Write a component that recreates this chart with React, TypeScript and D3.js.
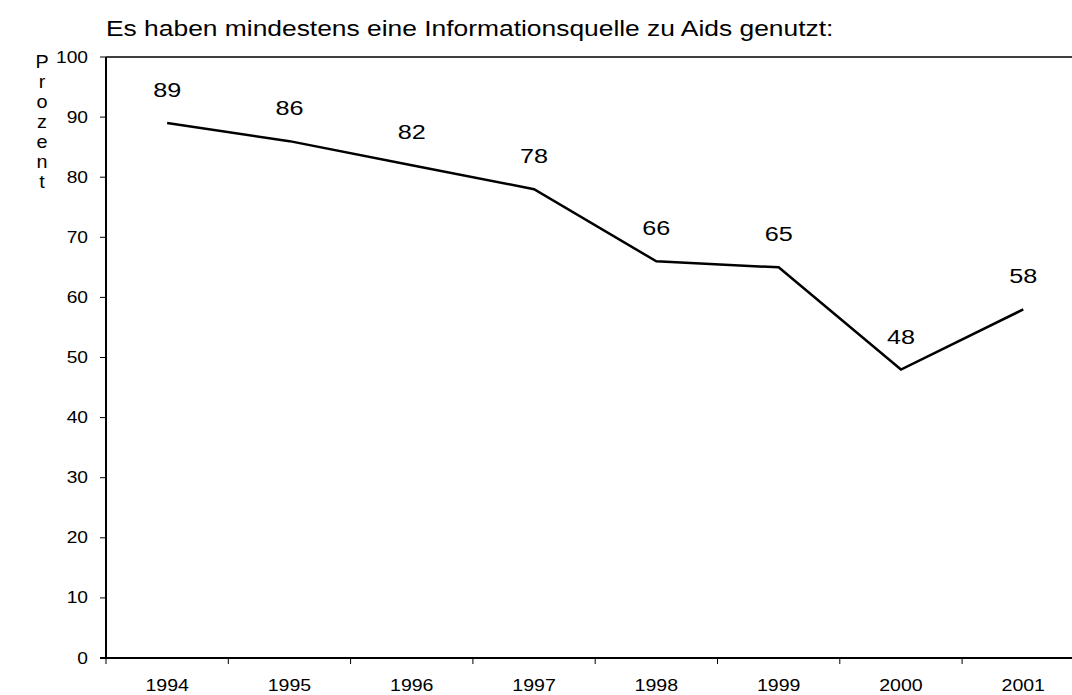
import React from "react";
import * as d3 from "d3";

const years = ["1994", "1995", "1996", "1997", "1998", "1999", "2000", "2001"];
const values = [89, 86, 82, 78, 66, 65, 48, 58];
const yTicks = [0, 10, 20, 30, 40, 50, 60, 70, 80, 90, 100];
const title = "Es haben mindestens eine Informationsquelle zu Aids genutzt:";
const yAxisLabel = "Prozent";

function T({ x, y, size, anchor = "start", sx = 1.2, children }: any) {
  return (
    <g transform={`translate(${x},${y}) scale(${sx},1)`}>
      <text x={0} y={0} fontSize={size} textAnchor={anchor} fill="#000">{children}</text>
    </g>
  );
}

export default function App() {
  const W = 1072, H = 695;
  const left = 106, top = 57, bottom = 658, bandW = 122.3;
  const x = d3.scaleBand<string>().domain(years).range([left, left + bandW * years.length]).padding(0);
  const y = d3.scaleLinear().domain([0, 100]).range([bottom, top]);
  const cx = (i: number) => (x(years[i]) as number) + x.bandwidth() / 2;
  const line = d3.line<number>().x((_, i) => cx(i)).y((d) => y(d));
  const font = "'Liberation Sans', Arial, sans-serif";
  const right = left + bandW * years.length;
  return (
    <svg width={W} height={H} style={{ position: "absolute", left: 0, top: 0, background: "#fff" }} fontFamily={font}>
      <rect x={0} y={0} width={W} height={H} fill="#fff" />
      <T x={left} y={36} size={22}>{title}</T>
      {yAxisLabel.split("").map((c, i) => (
        <T key={i} x={42} y={68 + i * 20} size={18} anchor="middle" sx={1.1}>{c}</T>
      ))}
      <line x1={left} x2={right} y1={top} y2={top} stroke="#000" strokeWidth={1.5} />
      <line x1={left} x2={left} y1={top} y2={bottom} stroke="#000" strokeWidth={2} />
      <line x1={left - 6} x2={right} y1={bottom} y2={bottom} stroke="#000" strokeWidth={2} />
      {yTicks.map((t) => (
        <g key={t}>
          <line x1={left - 6} x2={left} y1={y(t)} y2={y(t)} stroke="#000" strokeWidth={1} />
          <T x={88} y={y(t) + 5.5} size={16} anchor="end">{t}</T>
        </g>
      ))}
      {years.map((yr, i) => (
        <g key={yr}>
          <line x1={x(yr) as number} x2={x(yr) as number} y1={bottom} y2={bottom + 6} stroke="#000" strokeWidth={1} />
          <T x={cx(i)} y={691} size={17} anchor="middle" sx={1.15}>{yr}</T>
        </g>
      ))}
      <path d={line(values) || ""} fill="none" stroke="#000" strokeWidth={2.5} />
      {values.map((v, i) => (
        <T key={i} x={cx(i)} y={y(v) - 26} size={21} anchor="middle">{v}</T>
      ))}
    </svg>
  );
}
